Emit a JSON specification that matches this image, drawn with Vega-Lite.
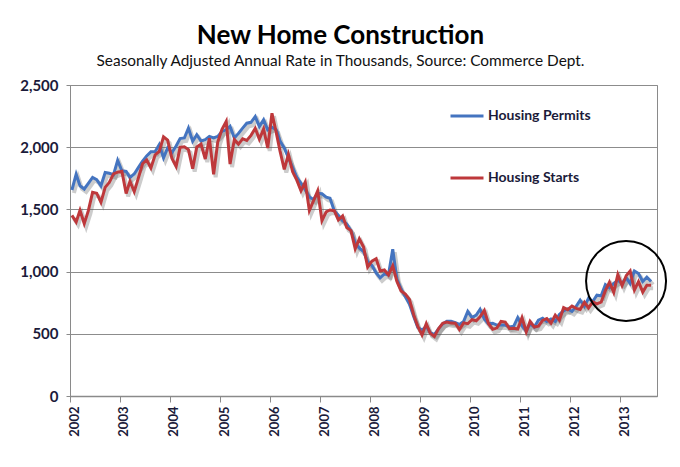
{
"$schema": "https://vega.github.io/schema/vega-lite/v6.json",
"width": 587,
"height": 311,
"autosize": {"type": "none"},
"padding": {"left": 70, "top": 85, "right": 23, "bottom": 71},
"background": "white",
"title": {"text": "New Home Construction", "subtitle": "Seasonally Adjusted Annual Rate in Thousands, Source: Commerce Dept.", "font": "Lato", "fontSize": 26, "fontWeight": "bold", "color": "#000000", "subtitleFont": "Lato", "subtitleFontSize": 15.4, "subtitleColor": "#111111", "anchor": "middle", "frame": "group", "dx": -23, "offset": 9, "subtitlePadding": 5},
"config": {"view": {"stroke": "#8a8a8a", "strokeWidth": 1}},
"datasets": {
"main": [
{"d":"2002-01-15","Housing Permits":1656,"Housing Starts":1452},
{"d":"2002-02-15","Housing Permits":1783,"Housing Starts":1399},
{"d":"2002-03-15","Housing Permits":1690,"Housing Starts":1492},
{"d":"2002-04-15","Housing Permits":1664,"Housing Starts":1386},
{"d":"2002-05-15","Housing Permits":1710,"Housing Starts":1490},
{"d":"2002-06-15","Housing Permits":1757,"Housing Starts":1637},
{"d":"2002-07-15","Housing Permits":1740,"Housing Starts":1630},
{"d":"2002-08-15","Housing Permits":1690,"Housing Starts":1558},
{"d":"2002-09-15","Housing Permits":1796,"Housing Starts":1677},
{"d":"2002-10-15","Housing Permits":1790,"Housing Starts":1717},
{"d":"2002-11-15","Housing Permits":1780,"Housing Starts":1785},
{"d":"2002-12-15","Housing Permits":1894,"Housing Starts":1800},
{"d":"2003-01-15","Housing Permits":1810,"Housing Starts":1806},
{"d":"2003-02-15","Housing Permits":1805,"Housing Starts":1628},
{"d":"2003-03-15","Housing Permits":1757,"Housing Starts":1726},
{"d":"2003-04-15","Housing Permits":1785,"Housing Starts":1643},
{"d":"2003-05-15","Housing Permits":1836,"Housing Starts":1751},
{"d":"2003-06-15","Housing Permits":1889,"Housing Starts":1867},
{"d":"2003-07-15","Housing Permits":1930,"Housing Starts":1897},
{"d":"2003-08-15","Housing Permits":1963,"Housing Starts":1833},
{"d":"2003-09-15","Housing Permits":1965,"Housing Starts":1939},
{"d":"2003-10-15","Housing Permits":2021,"Housing Starts":1967},
{"d":"2003-11-15","Housing Permits":1915,"Housing Starts":2083},
{"d":"2003-12-15","Housing Permits":1995,"Housing Starts":2057},
{"d":"2004-01-15","Housing Permits":1955,"Housing Starts":1911},
{"d":"2004-02-15","Housing Permits":2010,"Housing Starts":1846},
{"d":"2004-03-15","Housing Permits":2069,"Housing Starts":1998},
{"d":"2004-04-15","Housing Permits":2074,"Housing Starts":2003},
{"d":"2004-05-15","Housing Permits":2153,"Housing Starts":1981},
{"d":"2004-06-15","Housing Permits":2048,"Housing Starts":1828},
{"d":"2004-07-15","Housing Permits":2100,"Housing Starts":2002},
{"d":"2004-08-15","Housing Permits":2050,"Housing Starts":2024},
{"d":"2004-09-15","Housing Permits":2060,"Housing Starts":1905},
{"d":"2004-10-15","Housing Permits":2087,"Housing Starts":2072},
{"d":"2004-11-15","Housing Permits":2074,"Housing Starts":1782},
{"d":"2004-12-15","Housing Permits":2087,"Housing Starts":2042},
{"d":"2005-01-15","Housing Permits":2127,"Housing Starts":2144},
{"d":"2005-02-15","Housing Permits":2140,"Housing Starts":2207},
{"d":"2005-03-15","Housing Permits":2167,"Housing Starts":1864},
{"d":"2005-04-15","Housing Permits":2074,"Housing Starts":2061},
{"d":"2005-05-15","Housing Permits":2110,"Housing Starts":2025},
{"d":"2005-06-15","Housing Permits":2153,"Housing Starts":2068},
{"d":"2005-07-15","Housing Permits":2193,"Housing Starts":2054},
{"d":"2005-08-15","Housing Permits":2200,"Housing Starts":2095},
{"d":"2005-09-15","Housing Permits":2246,"Housing Starts":2151},
{"d":"2005-10-15","Housing Permits":2167,"Housing Starts":2065},
{"d":"2005-11-15","Housing Permits":2220,"Housing Starts":2147},
{"d":"2005-12-15","Housing Permits":2140,"Housing Starts":1994},
{"d":"2006-01-15","Housing Permits":2160,"Housing Starts":2273},
{"d":"2006-02-15","Housing Permits":2140,"Housing Starts":2119},
{"d":"2006-03-15","Housing Permits":2050,"Housing Starts":1969},
{"d":"2006-04-15","Housing Permits":1995,"Housing Starts":1821},
{"d":"2006-05-15","Housing Permits":1915,"Housing Starts":1942},
{"d":"2006-06-15","Housing Permits":1836,"Housing Starts":1802},
{"d":"2006-07-15","Housing Permits":1760,"Housing Starts":1737},
{"d":"2006-08-15","Housing Permits":1710,"Housing Starts":1650},
{"d":"2006-09-15","Housing Permits":1660,"Housing Starts":1720},
{"d":"2006-10-15","Housing Permits":1600,"Housing Starts":1491},
{"d":"2006-11-15","Housing Permits":1580,"Housing Starts":1570},
{"d":"2006-12-15","Housing Permits":1630,"Housing Starts":1649},
{"d":"2007-01-15","Housing Permits":1626,"Housing Starts":1409},
{"d":"2007-02-15","Housing Permits":1598,"Housing Starts":1480},
{"d":"2007-03-15","Housing Permits":1590,"Housing Starts":1495},
{"d":"2007-04-15","Housing Permits":1490,"Housing Starts":1490},
{"d":"2007-05-15","Housing Permits":1452,"Housing Starts":1415},
{"d":"2007-06-15","Housing Permits":1410,"Housing Starts":1448},
{"d":"2007-07-15","Housing Permits":1383,"Housing Starts":1354},
{"d":"2007-08-15","Housing Permits":1330,"Housing Starts":1330},
{"d":"2007-09-15","Housing Permits":1230,"Housing Starts":1183},
{"d":"2007-10-15","Housing Permits":1190,"Housing Starts":1264},
{"d":"2007-11-15","Housing Permits":1160,"Housing Starts":1197},
{"d":"2007-12-15","Housing Permits":1080,"Housing Starts":1037},
{"d":"2008-01-15","Housing Permits":1050,"Housing Starts":1084},
{"d":"2008-02-15","Housing Permits":990,"Housing Starts":1103},
{"d":"2008-03-15","Housing Permits":950,"Housing Starts":1005},
{"d":"2008-04-15","Housing Permits":980,"Housing Starts":1013},
{"d":"2008-05-15","Housing Permits":975,"Housing Starts":973},
{"d":"2008-06-15","Housing Permits":1180,"Housing Starts":1046},
{"d":"2008-07-15","Housing Permits":940,"Housing Starts":923},
{"d":"2008-08-15","Housing Permits":860,"Housing Starts":844},
{"d":"2008-09-15","Housing Permits":800,"Housing Starts":820},
{"d":"2008-10-15","Housing Permits":740,"Housing Starts":777},
{"d":"2008-11-15","Housing Permits":640,"Housing Starts":652},
{"d":"2008-12-15","Housing Permits":550,"Housing Starts":560},
{"d":"2009-01-15","Housing Permits":530,"Housing Starts":490},
{"d":"2009-02-15","Housing Permits":560,"Housing Starts":582},
{"d":"2009-03-15","Housing Permits":510,"Housing Starts":505},
{"d":"2009-04-15","Housing Permits":494,"Housing Starts":478},
{"d":"2009-05-15","Housing Permits":540,"Housing Starts":540},
{"d":"2009-06-15","Housing Permits":580,"Housing Starts":585},
{"d":"2009-07-15","Housing Permits":600,"Housing Starts":594},
{"d":"2009-08-15","Housing Permits":600,"Housing Starts":586},
{"d":"2009-09-15","Housing Permits":590,"Housing Starts":585},
{"d":"2009-10-15","Housing Permits":575,"Housing Starts":534},
{"d":"2009-11-15","Housing Permits":600,"Housing Starts":588},
{"d":"2009-12-15","Housing Permits":680,"Housing Starts":581},
{"d":"2010-01-15","Housing Permits":630,"Housing Starts":614},
{"d":"2010-02-15","Housing Permits":650,"Housing Starts":605},
{"d":"2010-03-15","Housing Permits":697,"Housing Starts":636},
{"d":"2010-04-15","Housing Permits":620,"Housing Starts":687},
{"d":"2010-05-15","Housing Permits":580,"Housing Starts":583},
{"d":"2010-06-15","Housing Permits":585,"Housing Starts":536},
{"d":"2010-07-15","Housing Permits":570,"Housing Starts":546},
{"d":"2010-08-15","Housing Permits":570,"Housing Starts":599},
{"d":"2010-09-15","Housing Permits":570,"Housing Starts":594},
{"d":"2010-10-15","Housing Permits":555,"Housing Starts":543},
{"d":"2010-11-15","Housing Permits":560,"Housing Starts":545},
{"d":"2010-12-15","Housing Permits":630,"Housing Starts":539},
{"d":"2011-01-15","Housing Permits":565,"Housing Starts":630},
{"d":"2011-02-15","Housing Permits":520,"Housing Starts":517},
{"d":"2011-03-15","Housing Permits":580,"Housing Starts":600},
{"d":"2011-04-15","Housing Permits":555,"Housing Starts":554},
{"d":"2011-05-15","Housing Permits":610,"Housing Starts":561},
{"d":"2011-06-15","Housing Permits":625,"Housing Starts":608},
{"d":"2011-07-15","Housing Permits":600,"Housing Starts":623},
{"d":"2011-08-15","Housing Permits":620,"Housing Starts":585},
{"d":"2011-09-15","Housing Permits":600,"Housing Starts":650},
{"d":"2011-10-15","Housing Permits":655,"Housing Starts":610},
{"d":"2011-11-15","Housing Permits":685,"Housing Starts":711},
{"d":"2011-12-15","Housing Permits":700,"Housing Starts":694},
{"d":"2012-01-15","Housing Permits":680,"Housing Starts":723},
{"d":"2012-02-15","Housing Permits":720,"Housing Starts":704},
{"d":"2012-03-15","Housing Permits":770,"Housing Starts":695},
{"d":"2012-04-15","Housing Permits":720,"Housing Starts":753},
{"d":"2012-05-15","Housing Permits":785,"Housing Starts":708},
{"d":"2012-06-15","Housing Permits":760,"Housing Starts":757},
{"d":"2012-07-15","Housing Permits":810,"Housing Starts":740},
{"d":"2012-08-15","Housing Permits":805,"Housing Starts":754},
{"d":"2012-09-15","Housing Permits":895,"Housing Starts":847},
{"d":"2012-10-15","Housing Permits":870,"Housing Starts":915},
{"d":"2012-11-15","Housing Permits":905,"Housing Starts":833},
{"d":"2012-12-15","Housing Permits":930,"Housing Starts":976},
{"d":"2013-01-15","Housing Permits":905,"Housing Starts":888},
{"d":"2013-02-15","Housing Permits":950,"Housing Starts":969},
{"d":"2013-03-15","Housing Permits":905,"Housing Starts":1005},
{"d":"2013-04-15","Housing Permits":1005,"Housing Starts":852},
{"d":"2013-05-15","Housing Permits":985,"Housing Starts":919},
{"d":"2013-06-15","Housing Permits":920,"Housing Starts":835},
{"d":"2013-07-15","Housing Permits":955,"Housing Starts":891},
{"d":"2013-08-15","Housing Permits":920,"Housing Starts":891}
],
"note": [{"d": "2013-02-13", "value": 925}]
},
"encoding": {
"x": {"field": "d", "type": "temporal", "scale": {"type": "utc", "domain": [{"year": 2002, "month": 1, "date": 1, "utc": true}, {"year": 2013, "month": 9, "date": 27, "utc": true}]},
 "axis": {"title": null, "values": [{"year":2002,"month":1,"date":1,"utc":true},{"year":2003,"month":1,"date":1,"utc":true},{"year":2004,"month":1,"date":1,"utc":true},{"year":2005,"month":1,"date":1,"utc":true},{"year":2006,"month":1,"date":1,"utc":true},{"year":2007,"month":1,"date":1,"utc":true},{"year":2008,"month":1,"date":1,"utc":true},{"year":2009,"month":1,"date":1,"utc":true},{"year":2010,"month":1,"date":1,"utc":true},{"year":2011,"month":1,"date":1,"utc":true},{"year":2012,"month":1,"date":1,"utc":true},{"year":2013,"month":1,"date":1,"utc":true}],
  "format": "%Y", "formatType": "utc", "labelAngle": -90, "labelFont": "Lato", "labelFontSize": 13, "labelFontWeight": "bold", "labelColor": "#1b1b3a", "tickSize": 6, "tickColor": "#8a8a8a", "domainColor": "#8a8a8a", "domainWidth": 1.5, "labelPadding": 4, "labelOffset": 4, "grid": false, "labelOverlap": false, "labelBound": false, "labelFlush": false}},
"y": {"field": "value", "type": "quantitative", "scale": {"domain": [0, 2500], "nice": false},
 "axis": {"title": null, "values": [0, 500, 1000, 1500, 2000, 2500], "format": ",d", "grid": true, "gridColor": "#8c8c8c", "gridWidth": 1, "domainColor": "#8a8a8a", "tickColor": "#8a8a8a", "tickSize": 4, "labelPadding": 8, "labelFont": "Lato", "labelFontSize": 15, "labelFontWeight": "bold", "labelColor": "#1b1b3a"}}
},
"layer": [
{"data": {"name": "main"}, "transform": [{"fold": ["Housing Permits", "Housing Starts"], "as": ["series", "value"]}],
 "mark": {"type": "line", "stroke": "#555555", "opacity": 0.3, "strokeWidth": 4, "xOffset": 2, "yOffset": 3},
 "encoding": {"detail": {"field": "series", "type": "nominal"}}},
{"data": {"name": "main"}, "transform": [{"fold": ["Housing Permits", "Housing Starts"], "as": ["series", "value"]}],
 "mark": {"type": "line", "strokeWidth": 3},
 "encoding": {"color": {"field": "series", "type": "nominal", "scale": {"domain": ["Housing Permits", "Housing Starts"], "range": ["#4474c0", "#be383b"]},
  "legend": {"title": null, "orient": "none", "legendX": 379, "legendY": 13, "direction": "vertical", "symbolType": "stroke", "symbolSize": 1089, "symbolStrokeWidth": 3, "labelFont": "Lato", "labelFontSize": 14, "labelFontWeight": "bold", "labelColor": "#1b1b3a", "rowPadding": 37, "labelOffset": 3, "padding": 0}}}},
{"data": {"name": "note"}, "mark": {"type": "point", "shape": "circle", "size": 6400, "filled": false, "stroke": "#000000", "strokeWidth": 2, "opacity": 1}}
]
}
